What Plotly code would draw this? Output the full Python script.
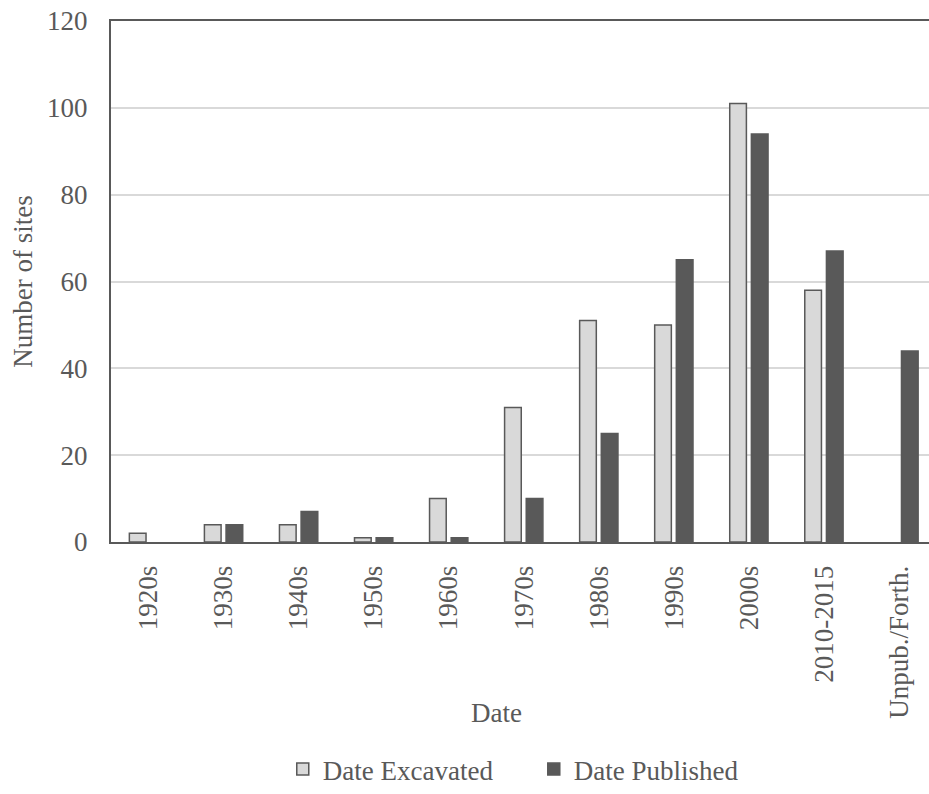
import plotly.graph_objects as go

categories = ["1920s", "1930s", "1940s", "1950s", "1960s", "1970s", "1980s",
              "1990s", "2000s", "2010-2015", "Unpub./Forth."]
excavated = [2, 4, 4, 1, 10, 31, 51, 50, 101, 58, None]
published = [None, 4, 7, 1, 1, 10, 25, 65, 94, 67, 44]
y_ticks = [0, 20, 40, 60, 80, 100, 120]

FONT = "Liberation Serif, Times New Roman, DejaVu Serif, serif"
GREY = "#595959"
LIGHT = "#d9d9d9"
FS = 27

fig = go.Figure()
fig.add_trace(go.Bar(
    x=categories, y=excavated, name="Date Excavated",
    marker=dict(color=LIGHT, line=dict(color=GREY, width=1.5)),
))
fig.add_trace(go.Bar(
    x=categories, y=published, name="Date Published",
    marker=dict(color=GREY, line=dict(color=GREY, width=1.5)),
))

fig.update_layout(
    width=929, height=794,
    margin=dict(l=111, r=0, t=21, b=248),
    paper_bgcolor="white", plot_bgcolor="white",
    font=dict(family=FONT, size=FS, color=GREY),
    barmode="group", bargap=0.423, bargroupgap=0.23,
    showlegend=True,
    legend=dict(orientation="h", x=0.21, xanchor="left", y=-0.437, yanchor="middle",
                font=dict(family=FONT, size=FS, color=GREY), entrywidth=206,
                itemwidth=30),
)
fig.update_xaxes(
    type="category", range=[-0.5, 10.4],
    showline=True, linecolor=GREY, linewidth=2, mirror=True,
    showgrid=False, ticks="", tickangle=-90, ticklabelstandoff=11,
    tickfont=dict(family=FONT, size=FS, color=GREY),
)
fig.update_yaxes(
    range=[0, 120], tickvals=y_ticks,
    showline=True, linecolor=GREY, linewidth=2, mirror=False,
    showgrid=True, gridcolor=LIGHT, gridwidth=1.5, zeroline=False,
    ticks="", ticklabelstandoff=16,
    tickfont=dict(family=FONT, size=FS, color=GREY),
    title=dict(text="Number of sites", standoff=7,
               font=dict(family=FONT, size=FS, color=GREY)),
)
fig.add_annotation(
    text="Date", xref="paper", yref="paper", x=(496 - 111) / 818, y=(546 - 718) / 525,
    xanchor="center", yanchor="middle", showarrow=False,
    font=dict(family=FONT, size=FS, color=GREY),
)

fig.write_html("out.html", config={"displayModeBar": False},
               post_script="document.body.style.margin='0';document.body.style.overflow='hidden';")
